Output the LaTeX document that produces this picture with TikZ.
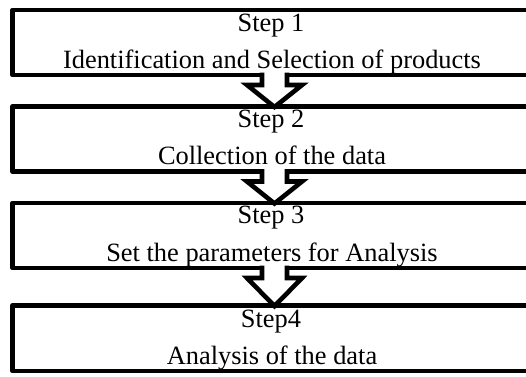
\documentclass[tikz,border=0pt]{standalone}
\usepackage{fontspec}
\setmainfont{Liberation Serif}
\begin{document}
\begin{tikzpicture}[x=1pt,y=-1pt,
  stepbox/.style={draw=black,line width=4.6pt,line join=round,fill=white},
  blockarrow/.style={draw=black,line width=4.6pt,line join=miter,fill=white},
  steptext/.style={anchor=base,inner sep=0pt,font=\fontsize{26.4}{30}\selectfont}]
\useasboundingbox (0,0) rectangle (526,376);
\clip (0,0) rectangle (526,376);
% boxes
\draw[stepbox] (12.5,10) rectangle (545,75);
\draw[stepbox] (12.5,106.5) rectangle (545,171.5);
\draw[stepbox] (12.5,203) rectangle (545,268);
\draw[stepbox] (12.5,305.5) rectangle (545,371);
% named anchor coordinates
\coordinate (b1) at (274.5,75);
\coordinate (t2) at (274.5,107);
\coordinate (b2) at (274.5,171.5);
\coordinate (t3) at (274.5,203.5);
\coordinate (b3) at (274.5,268);
\coordinate (t4) at (274.5,306);
% block arrows
\foreach \s/\e in {b1/t2,b2/t3,b3/t4}{
  \path[blockarrow] ([xshift=-12.5pt,yshift=2.5pt]\s) -- ([xshift=-12.5pt,yshift=-10pt]\s)
     -- ([xshift=-27.5pt,yshift=-10pt]\s) -- (\e) -- ([xshift=27.5pt,yshift=-10pt]\s)
     -- ([xshift=12.5pt,yshift=-10pt]\s) -- ([xshift=12.5pt,yshift=2.5pt]\s);
}
% texts
\node[steptext] (s1) at (271,31) {Step 1};
\node[steptext] (d1) at (272,68) {Identification and Selection of products};
\node[steptext] (s2) at (271,127.5) {Step 2};
\node[steptext] (d2) at (272,164.5) {Collection of the data};
\node[steptext] (s3) at (271,223.5) {Step 3};
\node[steptext] (d3) at (272,261.5) {Set the parameters for Analysis};
\node[steptext] (s4) at (271,327) {Step4};
\node[steptext] (d4) at (272,364) {Analysis of the data};
\end{tikzpicture}
\end{document}
